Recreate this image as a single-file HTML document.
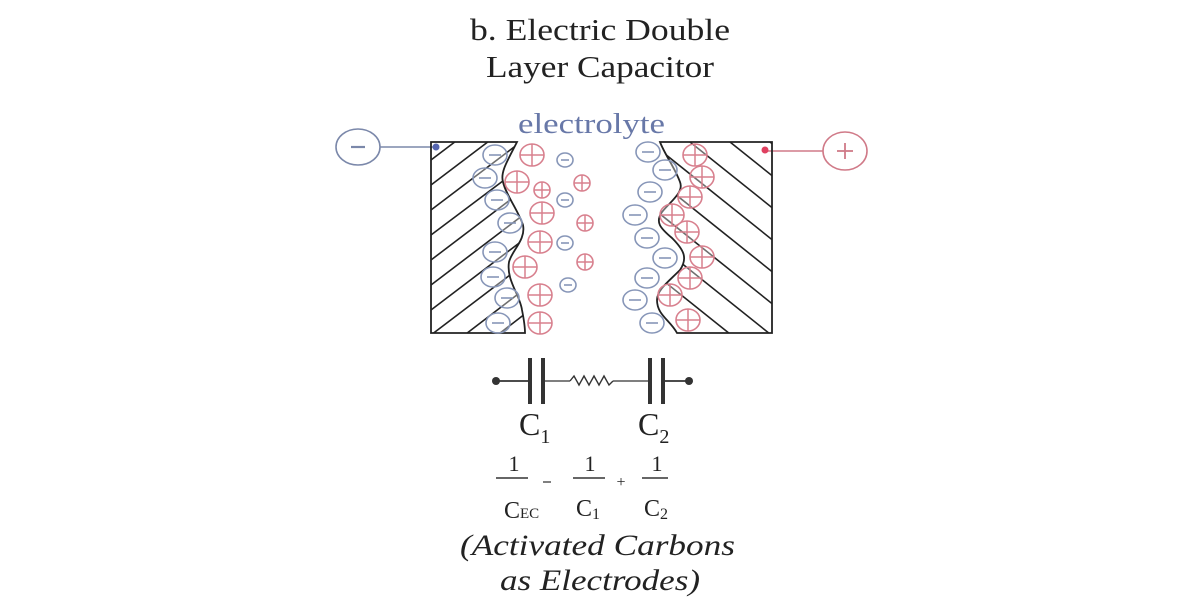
<!DOCTYPE html>
<html><head><meta charset="utf-8"><style>
html,body{margin:0;padding:0;background:#fff;}
svg{display:block;}
text{font-family:"Liberation Serif",serif;}
</style></head><body>
<svg width="1200" height="600" viewBox="0 0 1200 600" xmlns="http://www.w3.org/2000/svg">
<defs>
<clipPath id="cl"><path d="M431,142 L517,142 C508,160 500,172 503,182 C506,195 518,210 523,225 C526,240 512,250 509,262 C506,280 520,295 522,310 C524,320 525,328 525,333 L431,333 Z"/></clipPath>
<clipPath id="cr"><path d="M660,142 L772,142 L772,333 L677,333 C670,320 657,315 657,300 C657,290 668,282 680,270 C688,258 684,250 672,238 C660,228 655,222 662,212 C672,200 684,192 680,182 C675,168 665,155 660,142 Z"/></clipPath>
</defs>
<rect width="1200" height="600" fill="#fff"/>
<text x="470" y="40" font-size="31" textLength="260" lengthAdjust="spacingAndGlyphs" fill="#222">b. Electric Double</text>
<text x="486" y="77" font-size="31" textLength="228" lengthAdjust="spacingAndGlyphs" fill="#222">Layer Capacitor</text>
<text x="518" y="133" font-size="28" textLength="147" lengthAdjust="spacingAndGlyphs" fill="#6878a8">electrolyte</text>

<!-- terminals -->
<ellipse cx="358" cy="147" rx="22" ry="18" fill="none" stroke="#7b88aa" stroke-width="1.6"/>
<line x1="351" y1="147" x2="365" y2="147" stroke="#7b88aa" stroke-width="2.2"/>
<line x1="380" y1="147" x2="434" y2="147" stroke="#7b88aa" stroke-width="1.5"/>
<circle cx="436" cy="147" r="3.5" fill="#5565b0"/>
<ellipse cx="845" cy="151" rx="22" ry="19" fill="none" stroke="#d07a88" stroke-width="1.6"/>
<line x1="837" y1="151" x2="853" y2="151" stroke="#d07a88" stroke-width="1.8"/>
<line x1="845" y1="143" x2="845" y2="159" stroke="#d07a88" stroke-width="1.8"/>
<line x1="766" y1="151" x2="823" y2="151" stroke="#d07a88" stroke-width="1.5"/>
<circle cx="765" cy="150" r="3.5" fill="#e04060"/>

<!-- left electrode -->
<g clip-path="url(#cl)" stroke="#222" stroke-width="1.6">
<line x1="431" y1="160" x2="460" y2="138"/>
<line x1="431" y1="185" x2="493" y2="138"/>
<line x1="431" y1="210" x2="526" y2="138"/>
<line x1="431" y1="235" x2="560" y2="138"/>
<line x1="431" y1="260" x2="560" y2="162"/>
<line x1="431" y1="285" x2="560" y2="187"/>
<line x1="431" y1="310" x2="560" y2="212"/>
<line x1="431" y1="335" x2="560" y2="237"/>
<line x1="445" y1="350" x2="560" y2="262"/>
<line x1="478" y1="350" x2="560" y2="287"/>
<line x1="511" y1="350" x2="560" y2="312"/>
</g>
<path d="M431,142 L517,142 C508,160 500,172 503,182 C506,195 518,210 523,225 C526,240 512,250 509,262 C506,280 520,295 522,310 C524,320 525,328 525,333 L431,333 Z" fill="none" stroke="#222" stroke-width="1.8"/>

<!-- right electrode -->
<g clip-path="url(#cr)" stroke="#222" stroke-width="1.6">
<line x1="380" y1="54" x2="830" y2="414"/>
<line x1="420" y1="54" x2="870" y2="414"/>
<line x1="460" y1="54" x2="910" y2="414"/>
<line x1="500" y1="54" x2="950" y2="414"/>
<line x1="540" y1="54" x2="990" y2="414"/>
<line x1="580" y1="54" x2="1030" y2="414"/>
<line x1="620" y1="54" x2="1070" y2="414"/>
<line x1="660" y1="54" x2="1110" y2="414"/>
<line x1="700" y1="54" x2="1150" y2="414"/>
<line x1="740" y1="54" x2="1190" y2="414"/>
</g>
<path d="M660,142 L772,142 L772,333 L677,333 C670,320 657,315 657,300 C657,290 668,282 680,270 C688,258 684,250 672,238 C660,228 655,222 662,212 C672,200 684,192 680,182 C675,168 665,155 660,142 Z" fill="none" stroke="#222" stroke-width="1.8"/>

<!-- ions -->
<g fill="rgba(255,255,255,0.35)" stroke="#8796b8" stroke-width="1.6">
<ellipse cx="495" cy="155" rx="12" ry="10"/><ellipse cx="485" cy="178" rx="12" ry="10"/>
<ellipse cx="497" cy="200" rx="12" ry="10"/><ellipse cx="510" cy="223" rx="12" ry="10"/>
<ellipse cx="495" cy="252" rx="12" ry="10"/><ellipse cx="493" cy="277" rx="12" ry="10"/>
<ellipse cx="507" cy="298" rx="12" ry="10"/><ellipse cx="498" cy="323" rx="12" ry="10"/>
<ellipse cx="565" cy="160" rx="8" ry="7"/><ellipse cx="565" cy="200" rx="8" ry="7"/>
<ellipse cx="565" cy="243" rx="8" ry="7"/><ellipse cx="568" cy="285" rx="8" ry="7"/>
<ellipse cx="648" cy="152" rx="12" ry="10"/><ellipse cx="665" cy="170" rx="12" ry="10"/>
<ellipse cx="650" cy="192" rx="12" ry="10"/><ellipse cx="635" cy="215" rx="12" ry="10"/>
<ellipse cx="647" cy="238" rx="12" ry="10"/><ellipse cx="665" cy="258" rx="12" ry="10"/>
<ellipse cx="647" cy="278" rx="12" ry="10"/><ellipse cx="635" cy="300" rx="12" ry="10"/>
<ellipse cx="652" cy="323" rx="12" ry="10"/>
</g>
<g stroke="#8796b8" stroke-width="1.6">
<line x1="489" y1="155" x2="501" y2="155"/><line x1="479" y1="178" x2="491" y2="178"/>
<line x1="491" y1="200" x2="503" y2="200"/><line x1="504" y1="223" x2="516" y2="223"/>
<line x1="489" y1="252" x2="501" y2="252"/><line x1="487" y1="277" x2="499" y2="277"/>
<line x1="501" y1="298" x2="513" y2="298"/><line x1="492" y1="323" x2="504" y2="323"/>
<line x1="561" y1="160" x2="569" y2="160"/><line x1="561" y1="200" x2="569" y2="200"/>
<line x1="561" y1="243" x2="569" y2="243"/><line x1="564" y1="285" x2="572" y2="285"/>
<line x1="642" y1="152" x2="654" y2="152"/><line x1="659" y1="170" x2="671" y2="170"/>
<line x1="644" y1="192" x2="656" y2="192"/><line x1="629" y1="215" x2="641" y2="215"/>
<line x1="641" y1="238" x2="653" y2="238"/><line x1="659" y1="258" x2="671" y2="258"/>
<line x1="641" y1="278" x2="653" y2="278"/><line x1="629" y1="300" x2="641" y2="300"/>
<line x1="646" y1="323" x2="658" y2="323"/>
</g>
<g fill="rgba(255,255,255,0.35)" stroke="#d8808e" stroke-width="1.6">
<ellipse cx="532" cy="155" rx="12" ry="11"/><ellipse cx="517" cy="182" rx="12" ry="11"/>
<ellipse cx="542" cy="213" rx="12" ry="11"/><ellipse cx="540" cy="242" rx="12" ry="11"/>
<ellipse cx="525" cy="267" rx="12" ry="11"/><ellipse cx="540" cy="295" rx="12" ry="11"/>
<ellipse cx="540" cy="323" rx="12" ry="11"/>
<circle cx="542" cy="190" r="8"/><circle cx="582" cy="183" r="8"/>
<circle cx="585" cy="223" r="8"/><circle cx="585" cy="262" r="8"/>
<ellipse cx="695" cy="155" rx="12" ry="11"/><ellipse cx="702" cy="177" rx="12" ry="11"/>
<ellipse cx="690" cy="197" rx="12" ry="11"/><ellipse cx="672" cy="215" rx="12" ry="11"/>
<ellipse cx="687" cy="232" rx="12" ry="11"/><ellipse cx="702" cy="257" rx="12" ry="11"/>
<ellipse cx="690" cy="278" rx="12" ry="11"/><ellipse cx="670" cy="295" rx="12" ry="11"/>
<ellipse cx="688" cy="320" rx="12" ry="11"/>
</g>
<g stroke="#d8808e" stroke-width="1.5">
<path d="M520,155h24M532,144v22M505,182h24M517,171v22M530,213h24M542,202v22M528,242h24M540,231v22M513,267h24M525,256v22M528,295h24M540,284v22M528,323h24M540,312v22"/>
<path d="M534,190h16M542,182v16M574,183h16M582,175v16M577,223h16M585,215v16M577,262h16M585,254v16"/>
<path d="M683,155h24M695,144v22M690,177h24M702,166v22M678,197h24M690,186v22M660,215h24M672,204v22M675,232h24M687,221v22M690,257h24M702,246v22M678,278h24M690,267v22M658,295h24M670,284v22M676,320h24M688,309v22"/>
</g>

<!-- circuit -->
<g stroke="#333" fill="none">
<line x1="497" y1="381" x2="528" y2="381" stroke-width="1.8"/>
<line x1="530" y1="358" x2="530" y2="404" stroke-width="4"/>
<line x1="543" y1="358" x2="543" y2="404" stroke-width="4"/>
<line x1="545" y1="381" x2="570" y2="381" stroke-width="1.2"/>
<polyline points="570,381 574,376 579,385 584,376 589,385 594,376 599,385 604,376 609,385 613,381" stroke-width="1.4"/>
<line x1="613" y1="381" x2="648" y2="381" stroke-width="1.2"/>
<line x1="650" y1="358" x2="650" y2="404" stroke-width="4"/>
<line x1="663" y1="358" x2="663" y2="404" stroke-width="4"/>
<line x1="665" y1="381" x2="688" y2="381" stroke-width="1.8"/>
</g>
<circle cx="496" cy="381" r="4" fill="#333"/>
<circle cx="689" cy="381" r="4" fill="#333"/>
<text x="519" y="435" font-size="32" fill="#222">C<tspan font-size="20" dy="8">1</tspan></text>
<text x="638" y="435" font-size="32" fill="#222">C<tspan font-size="20" dy="8">2</tspan></text>

<!-- formula -->
<g fill="#222" font-size="22">
<text x="514" y="471" text-anchor="middle">1</text>
<line x1="496" y1="478" x2="528" y2="478" stroke="#333" stroke-width="1.5"/>
<text x="504" y="518" font-size="24">C<tspan font-size="15">EC</tspan></text>
<line x1="543" y1="482" x2="551" y2="482" stroke="#555" stroke-width="1.5"/>
<text x="590" y="471" text-anchor="middle">1</text>
<line x1="573" y1="478" x2="605" y2="478" stroke="#333" stroke-width="1.5"/>
<text x="576" y="516" font-size="24">C<tspan font-size="16" dy="3">1</tspan></text>
<text x="621" y="487" text-anchor="middle" font-size="16">+</text>
<text x="657" y="471" text-anchor="middle">1</text>
<line x1="642" y1="478" x2="668" y2="478" stroke="#333" stroke-width="1.5"/>
<text x="644" y="516" font-size="24">C<tspan font-size="16" dy="3">2</tspan></text>
</g>

<text x="460" y="555" font-size="30" font-style="italic" textLength="275" lengthAdjust="spacingAndGlyphs" fill="#222">(Activated Carbons</text>
<text x="500" y="590" font-size="30" font-style="italic" textLength="200" lengthAdjust="spacingAndGlyphs" fill="#222">as Electrodes)</text>
</svg>
</body></html>
